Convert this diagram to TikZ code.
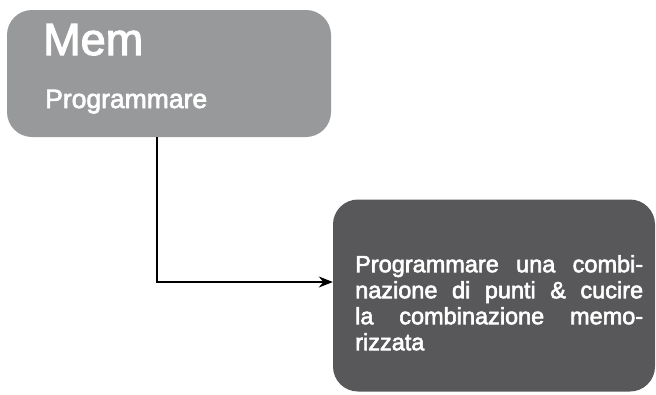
\documentclass[tikz,border=0pt]{standalone}
\usepackage{fontspec}
\setmainfont{Liberation Sans}[FakeBold=2.5]
\usetikzlibrary{arrows.meta}
\definecolor{boxlight}{HTML}{98999B}
\definecolor{boxdark}{HTML}{58585A}
\begin{document}
\begin{tikzpicture}[x=1pt,y=-1pt,
  roundbox/.style={rounded corners=25pt, inner sep=0pt, draw=none},
  wtext/.style={text=white, inner sep=0pt},
  conn/.style={line width=1.2pt, -{Stealth[length=14pt,width=11pt]}}]
\useasboundingbox (0,0) rectangle (656,394);
\node[roundbox, fill=boxlight, minimum width=324pt, minimum height=127pt] (top) at (169,73.5) {};
\node[roundbox, fill=boxdark, minimum width=322pt, minimum height=192pt] (bot) at (494,295.5) {};
\node[wtext, anchor=base west, font=\fontsize{45}{50}\selectfont] (mem) at (43,55) {Mem};
\node[wtext, anchor=base west, font=\fontsize{26.5}{30}\selectfont] (prog) at (45,108) {Programmare};
\node[wtext, anchor=north west, text width=288pt, align=justify, font=\fontsize{23.5}{26}\selectfont] (body) at (355,255)
  {Programmare una combi-\linebreak nazione di punti \& cucire\linebreak la combinazione memo-\linebreak rizzata};
\coordinate (bend) at (157,282);
\draw[conn] (top.south -| bend) -- (bend) -- (bend -| bot.west);
\end{tikzpicture}
\end{document}
